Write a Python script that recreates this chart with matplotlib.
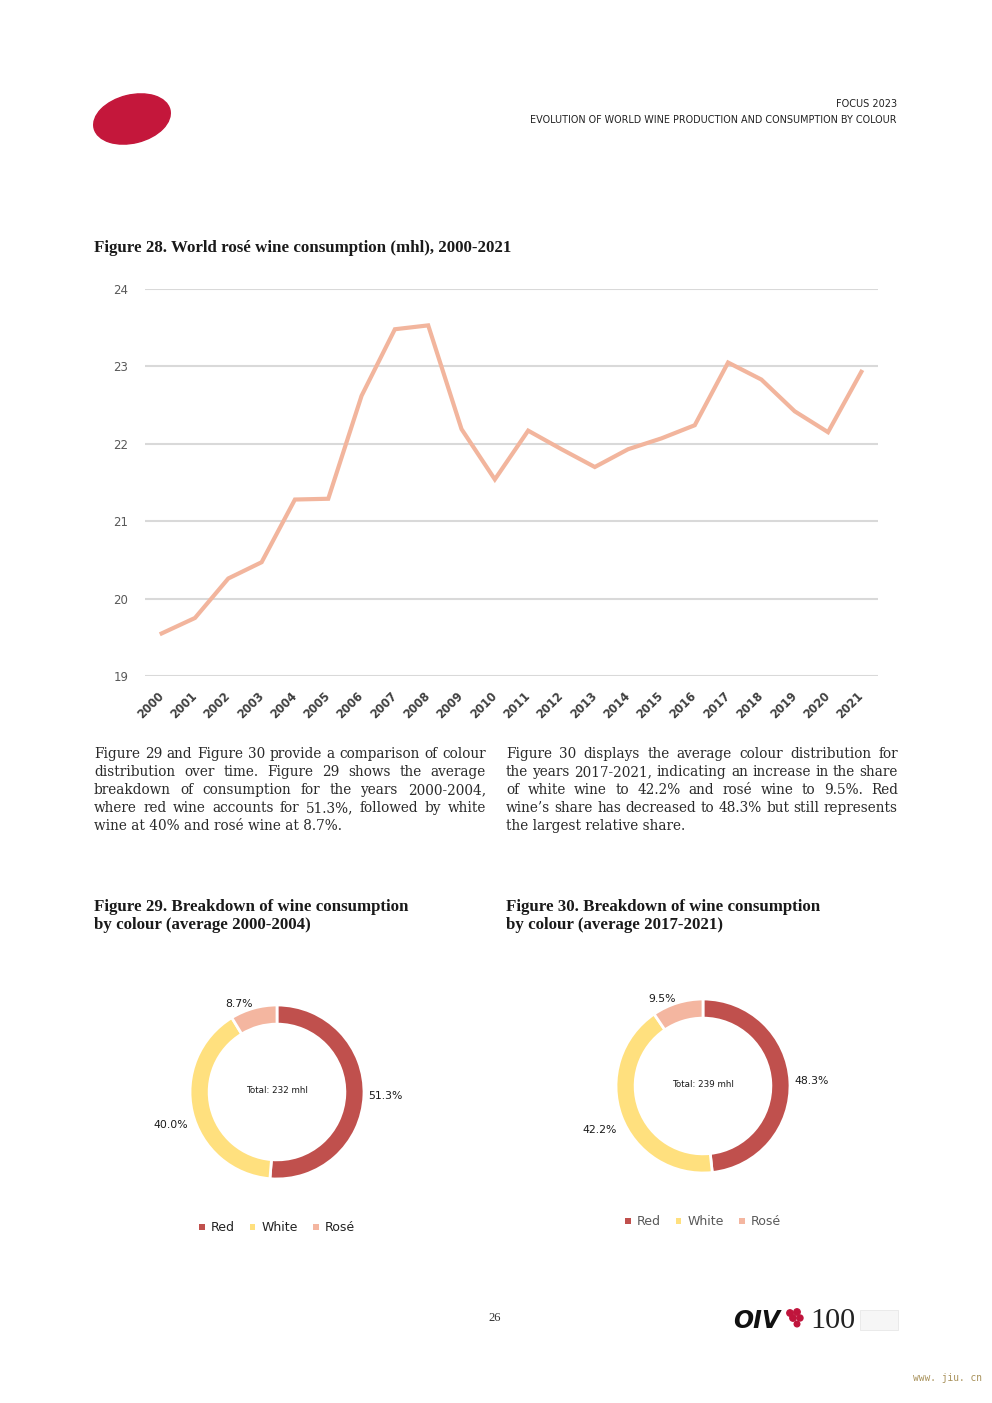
import numpy as np
import matplotlib
matplotlib.use('Agg')
import matplotlib.pyplot as plt
from matplotlib.patches import Ellipse, Circle, Rectangle

# ---- data ----
years = [str(y) for y in range(2000, 2022)]
rose_cons = [19.55, 19.75, 20.26, 20.47, 21.28, 21.29, 22.62, 23.48, 23.53, 22.19,
             21.54, 22.17, 21.93, 21.70, 21.93, 22.07, 22.24, 23.05, 22.83, 22.42,
             22.15, 22.93]
y_ticks = [19, 20, 21, 22, 23, 24]

colour_names = ['Red', 'White', 'Rosé']
share_2000_2004 = [51.3, 40.0, 8.7]
share_2017_2021 = [48.3, 42.2, 9.5]
total_2000_2004 = 232
total_2017_2021 = 239

LINE_COLOR = '#F2B59D'
DONUT_COLORS = ['#C0504D', '#FFE07E', '#F4B6A0']
W, H = 992, 1403

fig = plt.figure(figsize=(W / 100, H / 100), dpi=100)
bg = fig.add_axes([0, 0, 1, 1], zorder=-1)
bg.set_xlim(0, W)
bg.set_ylim(H, 0)
bg.axis('off')
renderer = fig.canvas.get_renderer()


def px_rect(x0, y0, x1, y1):
    return [x0 / W, 1 - y1 / H, (x1 - x0) / W, (y1 - y0) / H]


def fit(x, y, s, width, fs0=10, **kw):
    t = bg.text(x, y, s, fontsize=fs0, **kw)
    wid = t.get_window_extent(renderer).width
    t.set_fontsize(fs0 * width / wid)
    return t


def justify(x, y, line, width, fs, **kw):
    words = line.split()
    ts = [bg.text(0, y, w, fontsize=fs, va='center', **kw) for w in words]
    ws = [t.get_window_extent(renderer).width for t in ts]
    gap = (width - sum(ws)) / (len(words) - 1)
    cur = x
    for t, w in zip(ts, ws):
        t.set_x(cur)
        cur += w + gap


# ---- header ----
bg.add_patch(Ellipse((132, 119), 78, 48, angle=-14, color='#C4173B'))
fit(897, 104, 'FOCUS 2023', 61, ha='right', va='center', family='DejaVu Sans',
    color='#222222')
fit(897, 120, 'EVOLUTION OF WORLD WINE PRODUCTION AND CONSUMPTION BY COLOUR', 365,
    ha='right', va='center', family='DejaVu Sans', color='#222222')

serif = 'Liberation Serif'
body_serif = 'DejaVu Serif'
fit(94, 248, 'Figure 28. World rosé wine consumption (mhl), 2000-2021', 418,
    va='center', family=serif, weight='bold', color='#1a1a1a')

# ---- line chart ----
ax = fig.add_axes(px_rect(145, 289, 878, 676))
x = np.arange(len(years))
ax.plot(x, rose_cons, color=LINE_COLOR, lw=3.0, solid_joinstyle='miter')
ax.set_xlim(-0.5, len(years) - 0.5)
ax.set_ylim(19, 24)
ax.set_yticks(y_ticks)
ax.set_xticks(x)
ax.set_xticklabels(years, rotation=45, ha='right', va='center',
                   rotation_mode='anchor', fontsize=8.3, weight='bold', color='#404040')
ax.tick_params(axis='x', length=0, pad=13)
ax.tick_params(axis='y', length=0, pad=12, labelsize=8.5, labelcolor='#595959')
ax.grid(axis='y', color='#D9D9D9', lw=1.5)
ax.set_axisbelow(True)
for sp in ax.spines.values():
    sp.set_visible(False)

# ---- body text ----
left_lines = [
    'Figure 29 and Figure 30 provide a comparison of colour',
    'distribution over time. Figure 29 shows the average',
    'breakdown of consumption for the years 2000-2004,',
    'where red wine accounts for 51.3%, followed by white',
    'wine at 40% and rosé wine at 8.7%.',
]
right_lines = [
    'Figure 30 displays the average colour distribution for',
    'the years 2017-2021, indicating an increase in the share',
    'of white wine to 42.2% and rosé wine to 9.5%. Red',
    'wine’s share has decreased to 48.3% but still represents',
    'the largest relative share.',
]
probe = fit(94, -100, left_lines[-1], 247, family=body_serif)
body_fs = probe.get_fontsize()
probe.remove()
for col_x, lines in [(94, left_lines), (506, right_lines)]:
    for i, ln in enumerate(lines):
        yy = 754 + 18 * i
        if i < len(lines) - 1:
            justify(col_x, yy, ln, 392, body_fs, family=body_serif, color='#2a2a2a')
        else:
            bg.text(col_x, yy, ln, fontsize=body_fs, va='center', family=body_serif,
                    color='#2a2a2a')

# ---- donut titles ----
t = fit(94, 907, 'Figure 29. Breakdown of wine consumption', 314, va='center',
        family=serif, weight='bold', color='#1a1a1a')
tfs = t.get_fontsize()
bg.text(94, 925, 'by colour (average 2000-2004)', fontsize=tfs, va='center',
        family=serif, weight='bold', color='#1a1a1a')
bg.text(506, 907, 'Figure 30. Breakdown of wine consumption', fontsize=tfs, va='center',
        family=serif, weight='bold', color='#1a1a1a')
bg.text(506, 925, 'by colour (average 2017-2021)', fontsize=tfs, va='center',
        family=serif, weight='bold', color='#1a1a1a')


def donut(cx, cy, shares, total, legend_color):
    r = 87
    half = 1.25 * r
    dax = fig.add_axes(px_rect(cx - half, cy - half, cx + half, cy + half))
    labels = ['%.1f%%' % s for s in shares]
    wedges, texts = dax.pie(shares, colors=DONUT_COLORS, startangle=90, counterclock=False,
                            labels=labels, labeldistance=1.05,
                            wedgeprops=dict(width=0.22, edgecolor='white', linewidth=2),
                            textprops=dict(fontsize=7.8, color='#1a1a1a', family='DejaVu Sans'))
    # nudge the white label down a bit like the original layout
    texts[1].set_y(texts[1].get_position()[1] - 0.14)
    dax.set_xlim(-1.25, 1.25)
    dax.set_ylim(-1.25, 1.25)
    dax.set_aspect('equal')
    dax.text(0, 0.02, 'Total: %d mhl' % total, ha='center', va='center', fontsize=6.3,
             color='#1a1a1a')
    handles = [Rectangle((0, 0), 1, 1, facecolor=c, edgecolor='none') for c in DONUT_COLORS]
    dax.legend(handles, colour_names, loc='center', bbox_to_anchor=(0.5, -0.125), ncol=3,
               frameon=False, handlelength=0.45, handleheight=0.45, handletextpad=0.5,
               columnspacing=1.2, fontsize=9, labelcolor=legend_color)
    return dax


donut(277, 1092, share_2000_2004, total_2000_2004, '#222222')
donut(703, 1086, share_2017_2021, total_2017_2021, '#595959')

# ---- footer ----
bg.text(495, 1318, '26', fontsize=9, ha='center', va='center', family=serif, color='#333333')
fit(733, 1321, 'OIV', 47, va='center', weight='bold', style='italic', color='#111111',
    family='DejaVu Sans')
for gx, gy, gr in [(790, 1313, 3.2), (797, 1312, 3.2), (793, 1318, 3.2),
                   (800, 1318, 3.0), (797, 1324, 2.8)]:
    bg.add_patch(Circle((gx, gy), gr, color='#C0143C'))
fit(810, 1321, '100', 45, va='center', family=serif, color='#222222')
bg.add_patch(Rectangle((860, 1310), 38, 20, facecolor='#F6F6F6', edgecolor='#E8E8E8', lw=0.6))
fit(913, 1378, 'www. jiu. cn', 70, va='center', family='DejaVu Sans Mono', color='#A8915A')

fig.savefig('out.png', dpi=100)
